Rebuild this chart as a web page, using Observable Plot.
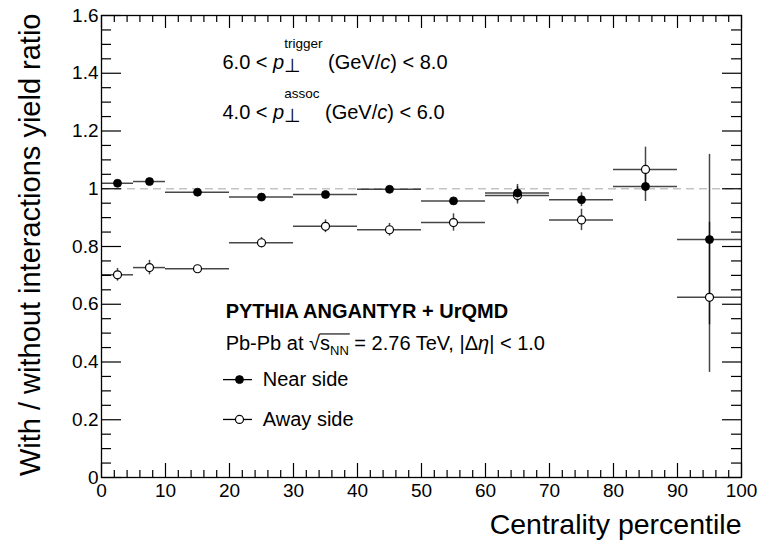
<!DOCTYPE html>
<html>
<head>
<meta charset="utf-8">
<script src="https://cdn.jsdelivr.net/npm/d3@7"></script>
<script src="https://cdn.jsdelivr.net/npm/@observablehq/plot@0.6"></script>
<style>
  html, body { margin: 0; padding: 0; background: #fff; }
  #chart { width: 766px; height: 540px; }
</style>
</head>
<body>
<div id="chart"></div>
<script>
// Centrality bins (percentile)
const binLow  = [0, 5, 10, 20, 30, 40, 50, 60, 70, 80, 90];
const binHigh = [5, 10, 20, 30, 40, 50, 60, 70, 80, 90, 100];

// With / without interactions yield ratio, near side (filled markers)
const nearRatio = [1.019, 1.025, 0.988, 0.971, 0.980, 0.998, 0.958, 0.985, 0.962, 1.008, 0.824];
const nearError = [0.008, 0.008, 0.006, 0.006, 0.006, 0.006, 0.008, 0.030, 0.024, 0.052, 0.295];

// Away side (open markers)
const awayRatio = [0.702, 0.727, 0.723, 0.813, 0.870, 0.858, 0.883, 0.977, 0.892, 1.067, 0.624];
const awayError = [0.022, 0.025, 0.010, 0.018, 0.022, 0.022, 0.030, 0.030, 0.037, 0.077, 0.260];

// Axis ticks
const xTickValues = [0, 10, 20, 30, 40, 50, 60, 70, 80, 90, 100];
const xTickLabels = ["0", "10", "20", "30", "40", "50", "60", "70", "80", "90", "100"];
const yTickValues = [0, 0.2, 0.4, 0.6, 0.8, 1.0, 1.2, 1.4, 1.6];
const yTickLabels = ["0", "0.2", "0.4", "0.6", "0.8", "1", "1.2", "1.4", "1.6"];

const xMinor = d3.range(0, 101, 2).filter(v => v % 10 !== 0);
const yMinor = d3.range(0, 33).map(k => +(k * 0.05).toFixed(2)).filter(v => Math.abs(v / 0.2 - Math.round(v / 0.2)) > 1e-6);

const toRows = (ratio, error) => binLow.map((lo, i) => ({
  lo, hi: binHigh[i], mid: (lo + binHigh[i]) / 2, ratio: ratio[i], err: error[i]
}));
const near = toRows(nearRatio, nearError);
const away = toRows(awayRatio, awayError);

// Rich-text annotations (segments: italic, sub/superscripts, radical)
const trigText = [
  {t: "6.0 < "}, {t: "p", it: true}, {t: "\u22A5", size: 19, shift: 3},
  {t: "trigger", size: 13.5, shift: -21, back: true}, {t: " (GeV/"}, {t: "c", it: true}, {t: ") < 8.0"}
];
const assocText = [
  {t: "4.0 < "}, {t: "p", it: true}, {t: "\u22A5", size: 19, shift: 3},
  {t: "assoc", size: 13.5, shift: -21, back: true}, {t: " (GeV/"}, {t: "c", it: true}, {t: ") < 6.0"}
];
const systemText = [
  {t: "Pb-Pb at "}, {t: "\u221A", rad: true}, {t: "s", over: true},
  {t: "NN", size: 13, shift: 5, over: true}, {t: " = 2.76 TeV, |\u0394"}, {t: "\u03B7", it: true}, {t: "| < 1.0"}
];
const plain = segs => segs.map(s => s.t).join("");

const FONT = '"Liberation Sans", Arial, Helvetica, sans-serif';
const barStyle = {stroke: "black", strokeOpacity: 0.72, strokeWidth: 1.5};

const chart = Plot.plot({
  width: 766,
  height: 540,
  marginLeft: 101,
  marginRight: 25,
  marginTop: 15,
  marginBottom: 63,
  x: {domain: [0, 100]},
  y: {domain: [0, 1.6]},
  style: {fontFamily: FONT, fontSize: "19px", color: "black", background: "white", overflow: "visible"},
  marks: [
    // reference line at unity
    Plot.ruleY([1], {stroke: "#c4c4c4", strokeWidth: 1.5, strokeDasharray: "8,5"}),

    // bin widths and uncertainties
    Plot.ruleY(near, {y: "ratio", x1: "lo", x2: "hi", ...barStyle}),
    Plot.ruleX(near, {x: "mid", y1: d => d.ratio - d.err, y2: d => d.ratio + d.err, ...barStyle}),
    Plot.ruleY(away, {y: "ratio", x1: "lo", x2: "hi", ...barStyle}),
    Plot.ruleX(away, {x: "mid", y1: d => d.ratio - d.err, y2: d => d.ratio + d.err, ...barStyle}),

    // markers
    Plot.dot(away, {x: "mid", y: "ratio", r: 4, fill: "white", stroke: "black", strokeWidth: 1.2}),
    Plot.dot(near, {x: "mid", y: "ratio", r: 4, fill: "black", stroke: "black", strokeWidth: 0.8}),

    // inward ticks on all four sides
    Plot.tickY(yTickValues, {y: d => d, insetRight: 620, stroke: "black", strokeWidth: 1.2}),
    Plot.tickY(yMinor, {y: d => d, insetRight: 630, stroke: "black", strokeWidth: 1.2}),
    Plot.tickY(yTickValues, {y: d => d, insetLeft: 621, stroke: "black", strokeWidth: 1.2}),
    Plot.tickY(yMinor, {y: d => d, insetLeft: 630, stroke: "black", strokeWidth: 1.2}),
    Plot.tickX(xTickValues, {x: d => d, insetTop: 448, stroke: "black", strokeWidth: 1.2}),
    Plot.tickX(xMinor, {x: d => d, insetTop: 455, stroke: "black", strokeWidth: 1.2}),
    Plot.tickX(xTickValues, {x: d => d, insetBottom: 449, stroke: "black", strokeWidth: 1.2}),
    Plot.tickX(xMinor, {x: d => d, insetBottom: 455, stroke: "black", strokeWidth: 1.2}),
    Plot.frame({stroke: "black", strokeWidth: 1.3}),

    // tick labels
    Plot.axisY({ticks: yTickValues, tickFormat: d => yTickLabels[yTickValues.indexOf(d)], tickSize: 0, tickPadding: 3, fontSize: 19, label: null}),
    Plot.axisX({ticks: xTickValues, tickFormat: d => xTickLabels[xTickValues.indexOf(d)], tickSize: 0, tickPadding: 6, fontSize: 19, label: null}),

    // axis titles
    Plot.text(["Centrality percentile"], {frameAnchor: "bottom-right", textAnchor: "end", lineAnchor: "bottom", dy: 56, fontSize: 28.5}),
    Plot.text(["With / without interactions yield ratio"], {frameAnchor: "top-left", rotate: -90, textAnchor: "end", lineAnchor: "middle", dx: -71, dy: -2, fontSize: 29}),

    // kinematic selection
    Plot.text([plain(trigText)], {x: 18.9, y: 1.413, textAnchor: "start", lineAnchor: "bottom", fontSize: 20}),
    Plot.text([plain(assocText)], {x: 18.9, y: 1.240, textAnchor: "start", lineAnchor: "bottom", fontSize: 20}),

    // model and system
    Plot.text(["PYTHIA ANGANTYR + UrQMD"], {x: 19.4, y: 0.554, textAnchor: "start", lineAnchor: "bottom", fontSize: 20, fontWeight: "bold"}),
    Plot.text([plain(systemText)], {x: 19.4, y: 0.440, textAnchor: "start", lineAnchor: "bottom", fontSize: 20}),

    // legend
    Plot.ruleY([0.339], {y: d => d, x1: 19.06, x2: 23.6, stroke: "black", strokeWidth: 1.3}),
    Plot.dot([0.339], {x: 21.56, y: d => d, r: 4, fill: "black", stroke: "black", strokeWidth: 0.8}),
    Plot.text(["Near side"], {x: 25.2, y: 0.339, textAnchor: "start", lineAnchor: "middle", fontSize: 20}),
    Plot.ruleY([0.201], {y: d => d, x1: 19.06, x2: 23.6, stroke: "black", strokeWidth: 1.3}),
    Plot.dot([0.201], {x: 21.56, y: d => d, r: 4, fill: "white", stroke: "black", strokeWidth: 1.2}),
    Plot.text(["Away side"], {x: 25.2, y: 0.201, textAnchor: "start", lineAnchor: "middle", fontSize: 20})
  ]
});

document.getElementById("chart").appendChild(chart);

// Rebuild annotation texts with italics, stacked sub/superscripts and the radical bar
const SVGNS = "http://www.w3.org/2000/svg";
function applyRich(svg, segs) {
  const key = plain(segs);
  for (const el of svg.querySelectorAll("text")) {
    if (el.textContent !== key) continue;
    el.textContent = "";
    let shift = 0, prev = null, offset = 0;
    let radIdx = -1, overStart = -1, overEnd = -1;
    for (const s of segs) {
      const ts = document.createElementNS(SVGNS, "tspan");
      ts.textContent = s.t;
      if (s.it) ts.setAttribute("font-style", "italic");
      if (s.size) ts.setAttribute("font-size", s.size);
      const target = s.shift || 0;
      if (target !== shift) { ts.setAttribute("dy", target - shift); shift = target; }
      el.appendChild(ts);
      if (s.back && prev) ts.setAttribute("dx", -prev.getComputedTextLength());
      if (s.rad) radIdx = offset;
      if (s.over) { if (overStart < 0) overStart = offset; overEnd = offset + s.t.length - 1; }
      offset += s.t.length;
      prev = ts;
    }
    if (radIdx >= 0 && overStart >= 0) {
      const rad = el.getExtentOfChar(radIdx);
      const base = el.getStartPositionOfChar(overStart);
      const end = el.getEndPositionOfChar(overEnd);
      const line = document.createElementNS(SVGNS, "line");
      const y = base.y - 16.5;
      line.setAttribute("x1", rad.x + rad.width - 0.6);
      line.setAttribute("x2", end.x + 1);
      line.setAttribute("y1", y);
      line.setAttribute("y2", y);
      line.setAttribute("stroke", "black");
      line.setAttribute("stroke-width", 1.1);
      if (el.getAttribute("transform")) line.setAttribute("transform", el.getAttribute("transform"));
      el.parentNode.appendChild(line);
    }
  }
}
applyRich(chart, trigText);
applyRich(chart, assocText);
applyRich(chart, systemText);
</script>
</body>
</html>
